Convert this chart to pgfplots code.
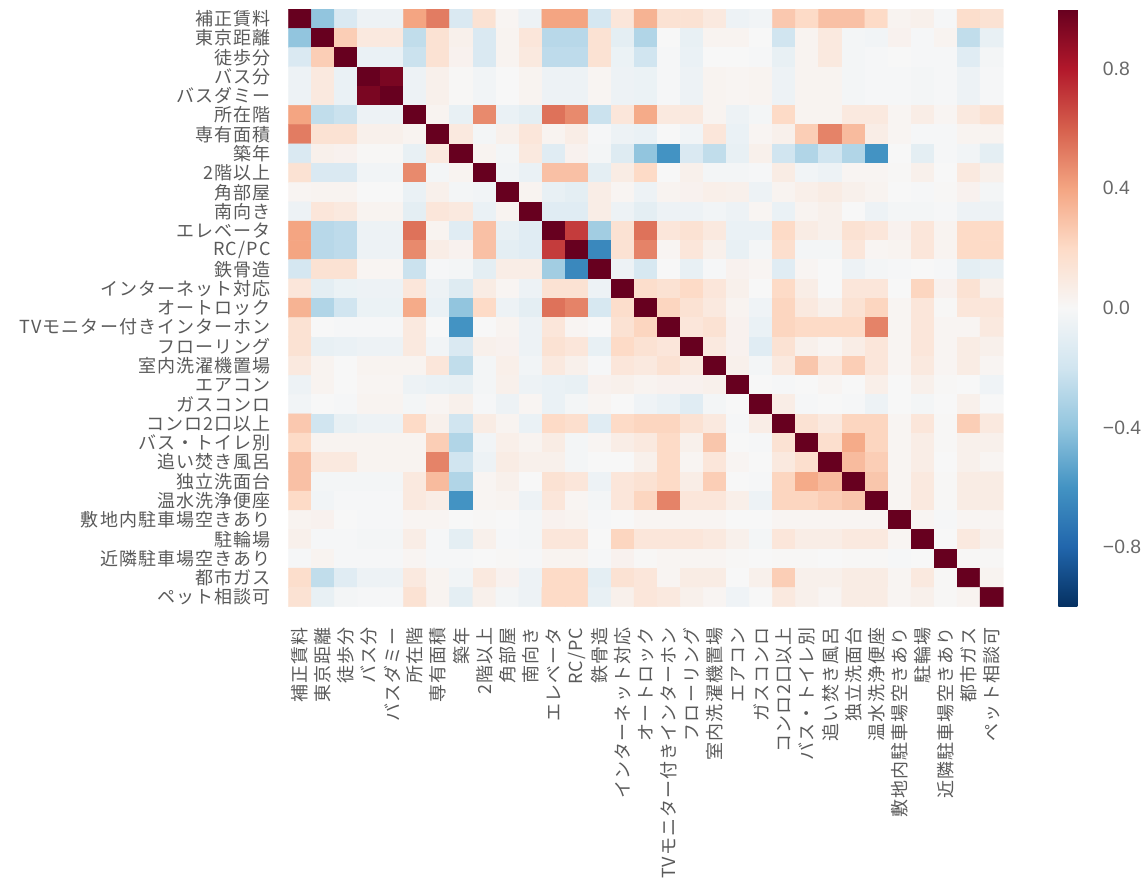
\documentclass[border=0pt]{standalone}
\usepackage{pgfplots}
\usepackage{pgfplotstable}
\pgfplotsset{compat=1.18}
\usepackage{fontspec}
\setmainfont{Liberation Sans}
\newfontfamily\jp{Noto Sans CJK JP}[LetterSpace=6]
\definecolor{lblgray}{RGB}{90,90,90}
\definecolor{numgray}{RGB}{105,105,105}

\pgfplotstableread[row sep=\\]{
c\\
1\\ -0.4\\ -0.15\\ -0.05\\ -0.05\\ 0.4\\ 0.52\\ -0.15\\ 0.15\\ 0.02\\ -0.05\\ 0.4\\ 0.4\\ -0.18\\ 0.12\\ 0.35\\ 0.15\\ 0.15\\ 0.1\\ -0.05\\ -0.03\\ 0.27\\ 0.2\\ 0.3\\ 0.3\\ 0.2\\ 0.03\\ 0.05\\ -0.01\\ 0.18\\ 0.15\\
-0.4\\ 1\\ 0.25\\ 0.1\\ 0.1\\ -0.25\\ 0.15\\ 0.05\\ -0.15\\ 0.03\\ 0.12\\ -0.28\\ -0.28\\ 0.15\\ -0.1\\ -0.3\\ 0.0\\ -0.08\\ 0.03\\ 0.03\\ 0.0\\ -0.2\\ 0.03\\ 0.1\\ -0.02\\ -0.03\\ 0.04\\ -0.01\\ 0.03\\ -0.25\\ -0.08\\
-0.15\\ 0.25\\ 1\\ -0.07\\ -0.07\\ -0.22\\ 0.15\\ 0.04\\ -0.15\\ 0.03\\ 0.1\\ -0.26\\ -0.26\\ 0.15\\ -0.06\\ -0.2\\ -0.01\\ -0.07\\ 0.0\\ 0.0\\ -0.01\\ -0.08\\ 0.03\\ 0.1\\ -0.02\\ -0.01\\ 0.0\\ -0.01\\ -0.01\\ -0.12\\ -0.02\\
-0.05\\ 0.1\\ -0.07\\ 1\\ 0.95\\ -0.05\\ 0.05\\ 0.01\\ -0.03\\ 0.0\\ 0.03\\ -0.05\\ -0.05\\ 0.02\\ -0.05\\ -0.06\\ -0.01\\ -0.05\\ 0.03\\ 0.02\\ 0.03\\ -0.05\\ 0.03\\ 0.03\\ -0.02\\ -0.01\\ -0.01\\ -0.02\\ -0.01\\ -0.05\\ -0.01\\
-0.05\\ 0.1\\ -0.07\\ 0.95\\ 1\\ -0.05\\ 0.05\\ 0.01\\ -0.03\\ 0.0\\ 0.03\\ -0.05\\ -0.05\\ 0.02\\ -0.05\\ -0.06\\ -0.01\\ -0.05\\ 0.03\\ 0.02\\ 0.03\\ -0.05\\ 0.03\\ 0.03\\ -0.02\\ -0.01\\ -0.01\\ -0.02\\ -0.01\\ -0.05\\ -0.01\\
0.4\\ -0.25\\ -0.22\\ -0.05\\ -0.05\\ 1\\ 0.03\\ -0.08\\ 0.48\\ -0.07\\ -0.1\\ 0.55\\ 0.48\\ -0.22\\ 0.12\\ 0.38\\ 0.1\\ 0.1\\ 0.03\\ -0.05\\ -0.02\\ 0.2\\ 0.03\\ 0.03\\ 0.1\\ 0.1\\ 0.02\\ 0.07\\ 0.02\\ 0.1\\ 0.15\\
0.52\\ 0.15\\ 0.15\\ 0.05\\ 0.05\\ 0.03\\ 1\\ 0.1\\ -0.02\\ 0.05\\ 0.12\\ 0.03\\ 0.07\\ -0.01\\ -0.05\\ -0.07\\ 0.0\\ -0.03\\ 0.12\\ -0.07\\ 0.02\\ 0.05\\ 0.25\\ 0.5\\ 0.32\\ 0.07\\ 0.02\\ -0.01\\ -0.01\\ 0.03\\ 0.03\\
-0.15\\ 0.05\\ 0.04\\ 0.01\\ 0.01\\ -0.08\\ 0.1\\ 1\\ 0.03\\ -0.02\\ 0.1\\ -0.12\\ 0.04\\ -0.02\\ -0.13\\ -0.4\\ -0.6\\ -0.15\\ -0.25\\ -0.08\\ 0.05\\ -0.2\\ -0.3\\ -0.2\\ -0.3\\ -0.6\\ 0.0\\ -0.1\\ -0.01\\ -0.03\\ -0.1\\
0.15\\ -0.15\\ -0.15\\ -0.03\\ -0.03\\ 0.48\\ -0.02\\ 0.03\\ 1\\ -0.03\\ -0.07\\ 0.3\\ 0.3\\ -0.1\\ 0.08\\ 0.2\\ 0.0\\ 0.05\\ -0.02\\ -0.02\\ -0.01\\ 0.08\\ -0.03\\ -0.05\\ 0.02\\ 0.02\\ 0.01\\ 0.05\\ 0.0\\ 0.1\\ 0.05\\
0.02\\ 0.03\\ 0.03\\ 0.0\\ 0.0\\ -0.07\\ 0.05\\ -0.02\\ -0.03\\ 1\\ 0.03\\ -0.08\\ -0.1\\ 0.07\\ 0.02\\ -0.05\\ 0.03\\ 0.04\\ 0.06\\ 0.05\\ -0.05\\ 0.03\\ 0.06\\ 0.08\\ 0.05\\ 0.03\\ 0.0\\ -0.01\\ 0.01\\ 0.04\\ -0.02\\
-0.05\\ 0.12\\ 0.1\\ 0.03\\ 0.03\\ -0.1\\ 0.12\\ 0.1\\ -0.07\\ 0.03\\ 1\\ -0.12\\ -0.12\\ 0.07\\ -0.05\\ -0.1\\ -0.05\\ -0.05\\ -0.03\\ -0.05\\ 0.02\\ -0.07\\ 0.03\\ 0.05\\ 0.0\\ -0.05\\ -0.02\\ -0.02\\ -0.01\\ -0.05\\ -0.05\\
0.4\\ -0.28\\ -0.26\\ -0.05\\ -0.05\\ 0.55\\ 0.03\\ -0.12\\ 0.3\\ -0.08\\ -0.12\\ 1\\ 0.7\\ -0.35\\ 0.15\\ 0.55\\ 0.12\\ 0.15\\ 0.1\\ -0.07\\ -0.07\\ 0.2\\ 0.08\\ 0.05\\ 0.15\\ 0.12\\ 0.04\\ 0.12\\ 0.03\\ 0.2\\ 0.2\\
0.4\\ -0.28\\ -0.26\\ -0.05\\ -0.05\\ 0.48\\ 0.07\\ 0.04\\ 0.3\\ -0.1\\ -0.12\\ 0.7\\ 1\\ -0.65\\ 0.15\\ 0.5\\ 0.02\\ 0.12\\ 0.05\\ -0.08\\ -0.02\\ 0.17\\ -0.02\\ -0.02\\ 0.12\\ 0.02\\ 0.03\\ 0.12\\ 0.03\\ 0.2\\ 0.2\\
-0.18\\ 0.15\\ 0.15\\ 0.02\\ 0.02\\ -0.22\\ -0.01\\ -0.02\\ -0.1\\ 0.07\\ 0.07\\ -0.35\\ -0.65\\ 1\\ -0.05\\ -0.17\\ 0.0\\ -0.08\\ -0.01\\ 0.04\\ 0.02\\ -0.12\\ 0.02\\ 0.0\\ -0.05\\ -0.02\\ -0.01\\ 0.0\\ -0.01\\ -0.1\\ -0.08\\
0.12\\ -0.1\\ -0.06\\ -0.05\\ -0.05\\ 0.12\\ -0.05\\ -0.13\\ 0.08\\ 0.02\\ -0.05\\ 0.15\\ 0.15\\ -0.05\\ 1\\ 0.18\\ 0.15\\ 0.2\\ 0.12\\ 0.05\\ 0.0\\ 0.2\\ 0.07\\ 0.0\\ 0.12\\ 0.12\\ 0.0\\ 0.22\\ 0.04\\ 0.15\\ 0.05\\
0.35\\ -0.3\\ -0.2\\ -0.06\\ -0.06\\ 0.38\\ -0.07\\ -0.4\\ 0.2\\ -0.05\\ -0.1\\ 0.55\\ 0.5\\ -0.17\\ 0.18\\ 1\\ 0.22\\ 0.15\\ 0.1\\ 0.03\\ -0.04\\ 0.22\\ 0.1\\ 0.05\\ 0.15\\ 0.22\\ 0.02\\ 0.12\\ 0.01\\ 0.12\\ 0.12\\
0.15\\ 0.0\\ -0.01\\ -0.01\\ -0.01\\ 0.1\\ 0.0\\ -0.6\\ 0.0\\ 0.03\\ -0.05\\ 0.12\\ 0.02\\ 0.0\\ 0.15\\ 0.22\\ 1\\ 0.12\\ 0.15\\ 0.04\\ -0.07\\ 0.22\\ 0.2\\ 0.2\\ 0.2\\ 0.5\\ 0.02\\ 0.12\\ 0.02\\ 0.02\\ 0.1\\
0.15\\ -0.08\\ -0.07\\ -0.05\\ -0.05\\ 0.1\\ -0.03\\ -0.15\\ 0.05\\ 0.04\\ -0.05\\ 0.15\\ 0.12\\ -0.08\\ 0.2\\ 0.15\\ 0.12\\ 1\\ 0.1\\ 0.04\\ -0.12\\ 0.15\\ 0.05\\ 0.02\\ 0.07\\ 0.12\\ 0.02\\ 0.12\\ 0.02\\ 0.08\\ 0.05\\
0.1\\ 0.03\\ 0.0\\ 0.03\\ 0.03\\ 0.03\\ 0.12\\ -0.25\\ -0.02\\ 0.06\\ -0.03\\ 0.1\\ 0.05\\ -0.01\\ 0.12\\ 0.1\\ 0.15\\ 0.1\\ 1\\ 0.05\\ -0.02\\ 0.1\\ 0.28\\ 0.12\\ 0.25\\ 0.12\\ 0.02\\ 0.1\\ 0.02\\ 0.08\\ 0.02\\
-0.05\\ 0.03\\ 0.0\\ 0.02\\ 0.02\\ -0.05\\ -0.07\\ -0.08\\ -0.02\\ 0.05\\ -0.05\\ -0.07\\ -0.08\\ 0.04\\ 0.05\\ 0.03\\ 0.04\\ 0.04\\ 0.05\\ 1\\ 0.0\\ -0.01\\ 0.0\\ 0.02\\ 0.0\\ 0.06\\ 0.0\\ 0.05\\ 0.01\\ 0.0\\ -0.04\\
-0.03\\ 0.0\\ -0.01\\ 0.03\\ 0.03\\ -0.02\\ 0.02\\ 0.05\\ -0.01\\ -0.05\\ 0.02\\ -0.07\\ -0.02\\ 0.02\\ 0.0\\ -0.04\\ -0.07\\ -0.12\\ -0.02\\ 0.0\\ 1\\ 0.07\\ -0.01\\ 0.0\\ -0.01\\ -0.05\\ 0.0\\ -0.02\\ 0.0\\ 0.05\\ 0.0\\
0.27\\ -0.2\\ -0.08\\ -0.05\\ -0.05\\ 0.2\\ 0.05\\ -0.2\\ 0.08\\ 0.03\\ -0.07\\ 0.2\\ 0.17\\ -0.12\\ 0.2\\ 0.22\\ 0.22\\ 0.15\\ 0.1\\ -0.01\\ 0.07\\ 1\\ 0.15\\ 0.1\\ 0.22\\ 0.22\\ 0.02\\ 0.12\\ 0.01\\ 0.25\\ 0.1\\
0.2\\ 0.03\\ 0.03\\ 0.03\\ 0.03\\ 0.03\\ 0.25\\ -0.3\\ -0.03\\ 0.06\\ 0.03\\ 0.08\\ -0.02\\ 0.02\\ 0.07\\ 0.1\\ 0.2\\ 0.05\\ 0.28\\ 0.0\\ -0.01\\ 0.15\\ 1\\ 0.17\\ 0.38\\ 0.22\\ 0.02\\ 0.07\\ 0.01\\ 0.05\\ 0.05\\
0.3\\ 0.1\\ 0.1\\ 0.03\\ 0.03\\ 0.03\\ 0.5\\ -0.2\\ -0.05\\ 0.08\\ 0.05\\ 0.05\\ -0.02\\ 0.0\\ 0.0\\ 0.05\\ 0.2\\ 0.02\\ 0.12\\ 0.02\\ 0.0\\ 0.1\\ 0.17\\ 1\\ 0.32\\ 0.25\\ 0.02\\ 0.07\\ 0.0\\ 0.05\\ 0.02\\
0.3\\ -0.02\\ -0.02\\ -0.02\\ -0.02\\ 0.1\\ 0.32\\ -0.3\\ 0.02\\ 0.05\\ 0.0\\ 0.15\\ 0.12\\ -0.05\\ 0.12\\ 0.15\\ 0.2\\ 0.07\\ 0.25\\ 0.0\\ -0.01\\ 0.22\\ 0.38\\ 0.32\\ 1\\ 0.28\\ 0.02\\ 0.1\\ 0.01\\ 0.08\\ 0.08\\
0.2\\ -0.03\\ -0.01\\ -0.01\\ -0.01\\ 0.1\\ 0.07\\ -0.6\\ 0.02\\ 0.03\\ -0.05\\ 0.12\\ 0.02\\ -0.02\\ 0.12\\ 0.22\\ 0.5\\ 0.12\\ 0.12\\ 0.06\\ -0.05\\ 0.22\\ 0.22\\ 0.25\\ 0.28\\ 1\\ 0.02\\ 0.1\\ 0.01\\ 0.08\\ 0.08\\
0.03\\ 0.04\\ 0.0\\ -0.01\\ -0.01\\ 0.02\\ 0.02\\ 0.0\\ 0.01\\ 0.0\\ -0.02\\ 0.04\\ 0.03\\ -0.01\\ 0.0\\ 0.02\\ 0.02\\ 0.02\\ 0.02\\ 0.0\\ 0.0\\ 0.02\\ 0.02\\ 0.02\\ 0.02\\ 0.02\\ 1\\ 0.02\\ -0.01\\ 0.02\\ 0.02\\
0.05\\ -0.01\\ -0.01\\ -0.02\\ -0.02\\ 0.07\\ -0.01\\ -0.1\\ 0.05\\ -0.01\\ -0.02\\ 0.12\\ 0.12\\ 0.0\\ 0.22\\ 0.12\\ 0.12\\ 0.12\\ 0.1\\ 0.05\\ -0.02\\ 0.12\\ 0.07\\ 0.07\\ 0.1\\ 0.1\\ 0.02\\ 1\\ 0.0\\ 0.1\\ 0.05\\
-0.01\\ 0.03\\ -0.01\\ -0.01\\ -0.01\\ 0.02\\ -0.01\\ -0.01\\ 0.0\\ 0.01\\ -0.01\\ 0.03\\ 0.03\\ -0.01\\ 0.04\\ 0.01\\ 0.02\\ 0.02\\ 0.02\\ 0.01\\ 0.0\\ 0.01\\ 0.01\\ 0.0\\ 0.01\\ 0.01\\ -0.01\\ 0.0\\ 1\\ 0.01\\ 0.01\\
0.18\\ -0.25\\ -0.12\\ -0.05\\ -0.05\\ 0.1\\ 0.03\\ -0.03\\ 0.1\\ 0.04\\ -0.05\\ 0.2\\ 0.2\\ -0.1\\ 0.15\\ 0.12\\ 0.02\\ 0.08\\ 0.08\\ 0.0\\ 0.05\\ 0.25\\ 0.05\\ 0.05\\ 0.08\\ 0.08\\ 0.02\\ 0.1\\ 0.01\\ 1\\ 0.03\\
0.15\\ -0.08\\ -0.02\\ -0.01\\ -0.01\\ 0.15\\ 0.03\\ -0.1\\ 0.05\\ -0.02\\ -0.05\\ 0.2\\ 0.2\\ -0.08\\ 0.05\\ 0.12\\ 0.1\\ 0.05\\ 0.02\\ -0.04\\ 0.0\\ 0.1\\ 0.05\\ 0.02\\ 0.08\\ 0.08\\ 0.02\\ 0.05\\ 0.01\\ 0.03\\ 1\\
}\corr

\begin{document}
\begin{tikzpicture}
\path[use as bounding box] (0,0) rectangle (857.25pt,-671.25pt);
\begin{axis}[
  at={(216.2pt,-6.75pt)}, anchor=north west,
  scale only axis, width=536.25pt, height=448.3pt,
  xmin=-0.5, xmax=30.5, ymin=-0.5, ymax=30.5,
  y dir=reverse, enlargelimits=false,
  axis line style={draw=none}, major tick length=0pt,
  xtick={0,...,30}, ytick={0,...,30},
  xticklabels={補正賃料,東京距離,徒歩分,バス分,バスダミー,所在階,専有面積,築年,2階以上,角部屋,南向き,エレベータ,RC/PC,鉄骨造,インターネット対応,オートロック,TVモニター付きインターホン,フローリング,室内洗濯機置場,エアコン,ガスコンロ,コンロ2口以上,バス・トイレ別,追い焚き風呂,独立洗面台,温水洗浄便座,敷地内駐車場空きあり,駐輪場,近隣駐車場空きあり,都市ガス,ペット相談可},
  yticklabels={補正賃料,東京距離,徒歩分,バス分,バスダミー,所在階,専有面積,築年,2階以上,角部屋,南向き,エレベータ,RC/PC,鉄骨造,インターネット対応,オートロック,TVモニター付きインターホン,フローリング,室内洗濯機置場,エアコン,ガスコンロ,コンロ2口以上,バス・トイレ別,追い焚き風呂,独立洗面台,温水洗浄便座,敷地内駐車場空きあり,駐輪場,近隣駐車場空きあり,都市ガス,ペット相談可},
  xticklabel style={rotate=90, anchor=east, inner sep=0pt, font=\jp\fontsize{13.5}{15}\selectfont, text=lblgray},
  yticklabel style={anchor=east, inner sep=0pt, font=\jp\fontsize{13.5}{15}\selectfont, text=lblgray},
  xticklabel shift=15.5pt, yticklabel shift=13pt,
  colormap={rdbu}{rgb255=(5,48,97) rgb255=(33,102,172) rgb255=(67,147,195) rgb255=(146,197,222) rgb255=(209,229,240) rgb255=(247,247,247) rgb255=(253,219,199) rgb255=(244,165,130) rgb255=(214,96,77) rgb255=(178,24,43) rgb255=(103,0,31)},
  point meta min=-1, point meta max=1,
  colorbar right,
  colorbar style={
    at={(parent axis.north east)}, anchor=north west, xshift=32.8pt,
    scale only axis, width=23.25pt, height=448.3pt,
    axis line style={draw=none}, major tick length=0pt,
    ytick={-0.8,-0.4,0,0.4,0.8},
    yticklabels={−0.8,−0.4,0.0,0.4,0.8},
    yticklabel style={anchor=west, inner sep=0pt, font=\fontsize{14.5}{16}\selectfont, text=numgray},
    yticklabel shift=10pt,
  },
]
\addplot[matrix plot*, mesh/cols=31, point meta=explicit]
  table[x index=0, y index=0, x expr={\coordindex-31*floor((\coordindex+0.5)/31)}, y expr={floor((\coordindex+0.5)/31)}, meta=c] {\corr};
\end{axis}
\end{tikzpicture}
\end{document}
